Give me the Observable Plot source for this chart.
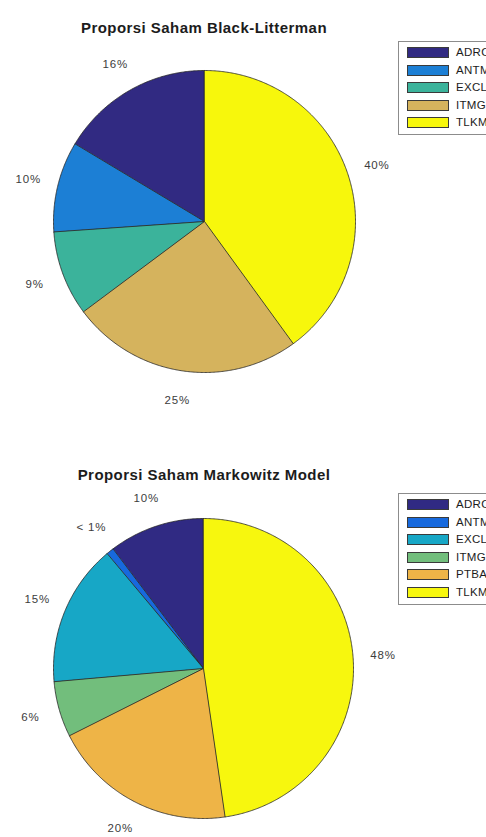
<!DOCTYPE html>
<html>
<head>
<meta charset="utf-8">
<script src="https://cdn.jsdelivr.net/npm/d3@7"></script>
<script src="https://cdn.jsdelivr.net/npm/@observablehq/plot@0.6"></script>
<style>
  html, body { margin: 0; padding: 0; background: #fff; }
  body { width: 486px; height: 837px; overflow: hidden; position: relative;
         font-family: "Liberation Sans", Arial, Helvetica, sans-serif; }
  .title { position: absolute; left: 0; width: 408px; text-align: center; font-weight: bold;
           font-size: 15px; letter-spacing: 0.45px; color: #1c1c1c; line-height: 18px; }
  .chart { position: absolute; left: 0; }
  .legend { position: absolute; left: 398px; width: 130px; border: 1px solid #8c8c8c; background: #fff;
            box-sizing: border-box; }
  .legend .row { position: relative; height: 17.6px; }
  .legend .sw { position: absolute; left: 8px; top: 3px; width: 42px; height: 11px;
                border: 1px solid #3a3a3a; box-sizing: border-box; }
  .legend .lb { position: absolute; left: 57px; top: 0; line-height: 17.6px; font-size: 11.5px;
                color: #1c1c1c; letter-spacing: 0.3px; white-space: nowrap; }
</style>
</head>
<body>
<script>
// ---- Data: Black-Litterman portfolio ----
const blCategories = ["ADRO", "ANTM", "EXCL", "ITMG", "TLKM"];
const blValues     = [0.164, 0.097, 0.091, 0.248, 0.400];
const blLabels     = ["16%", "10%", "9%", "25%", "40%"];
const blColors     = ["#312a82", "#1c7fd5", "#3bb39b", "#d5b35d", "#f7f70c"];
const blTitle      = "Proporsi Saham Black-Litterman";

// ---- Data: Markowitz portfolio ----
const mkCategories = ["ADRO", "ANTM", "EXCL", "ITMG", "PTBA", "TLKM"];
const mkValues     = [0.103, 0.008, 0.153, 0.060, 0.199, 0.477];
const mkLabels     = ["10%", "< 1%", "15%", "6%", "20%", "48%"];
const mkColors     = ["#302a83", "#1769dd", "#17a7c6", "#72be7c", "#eeb447", "#f7f70e"];
const mkTitle      = "Proporsi Saham Markowitz Model";

// Build slice outlines (unit circle, counterclockwise from 12 o'clock, like MATLAB pie)
function slicePoints(cats, vals) {
  const pts = [];
  let cum = 0;
  cats.forEach((c, i) => {
    const a0 = cum * 2 * Math.PI, a1 = (cum + vals[i]) * 2 * Math.PI;
    const n = Math.max(2, Math.ceil((a1 - a0) / (Math.PI / 360)));
    pts.push({name: c, x: 0, y: 0});
    for (let k = 0; k <= n; k++) {
      const a = a0 + (a1 - a0) * k / n;
      pts.push({name: c, x: -Math.sin(a), y: Math.cos(a)});
    }
    cum += vals[i];
  });
  return pts;
}
function labelPoints(cats, vals, labels) {
  let cum = 0;
  return cats.map((c, i) => {
    const mid = (cum + vals[i] / 2) * 2 * Math.PI;
    cum += vals[i];
    return {name: c, text: labels[i], x: -1.2 * Math.sin(mid), y: 1.2 * Math.cos(mid)};
  });
}

function drawPanel({cats, vals, labels, colors, title, top, svgTop, svgHeight, cxPx, cyPx, rPx, titleY, legendTop}) {
  const W = 486, H = svgHeight;
  const cy = cyPx - svgTop;
  const plot = Plot.plot({
    width: W, height: H, margin: 0,
    style: {fontFamily: "'Liberation Sans', Arial, sans-serif", letterSpacing: "0.8px", background: "transparent"},
    x: {domain: [-cxPx / rPx, (W - cxPx) / rPx], axis: null},
    y: {domain: [-(H - cy) / rPx, cy / rPx], axis: null},
    color: {domain: cats, range: colors},
    marks: [
      Plot.line(slicePoints(cats, vals), {
        x: "x", y: "y", z: "name", fill: "name", stroke: "#262626", strokeWidth: 0.8,
        curve: "linear-closed", strokeLinejoin: "round"
      }),
      Plot.text(labelPoints(cats, vals, labels), {
        x: "x", y: "y", text: "text", fontSize: 11.5, fill: "#3c3c3c",
        textAnchor: "middle", lineAnchor: "middle"
      })
    ]
  });
  plot.classList.add("chart");
  plot.style.top = svgTop + "px";
  document.body.appendChild(plot);

  const t = document.createElement("div");
  t.className = "title";
  t.style.top = (titleY - 9) + "px";
  t.textContent = title;
  document.body.appendChild(t);

  const lg = document.createElement("div");
  lg.className = "legend";
  lg.style.top = legendTop + "px";
  lg.style.padding = "2px 0 2px 0";
  cats.forEach((c, i) => {
    const row = document.createElement("div");
    row.className = "row";
    const sw = document.createElement("div");
    sw.className = "sw";
    sw.style.background = colors[i];
    const lb = document.createElement("div");
    lb.className = "lb";
    lb.textContent = c;
    row.appendChild(sw); row.appendChild(lb);
    lg.appendChild(row);
  });
  document.body.appendChild(lg);
}

drawPanel({cats: blCategories, vals: blValues, labels: blLabels, colors: blColors, title: blTitle,
  svgTop: 40, svgHeight: 380, cxPx: 204, cyPx: 221, rPx: 151, titleY: 28, legendTop: 41});
drawPanel({cats: mkCategories, vals: mkValues, labels: mkLabels, colors: mkColors, title: mkTitle,
  svgTop: 482, svgHeight: 355, cxPx: 203, cyPx: 668, rPx: 150, titleY: 475, legendTop: 493});
</script>
</body>
</html>
